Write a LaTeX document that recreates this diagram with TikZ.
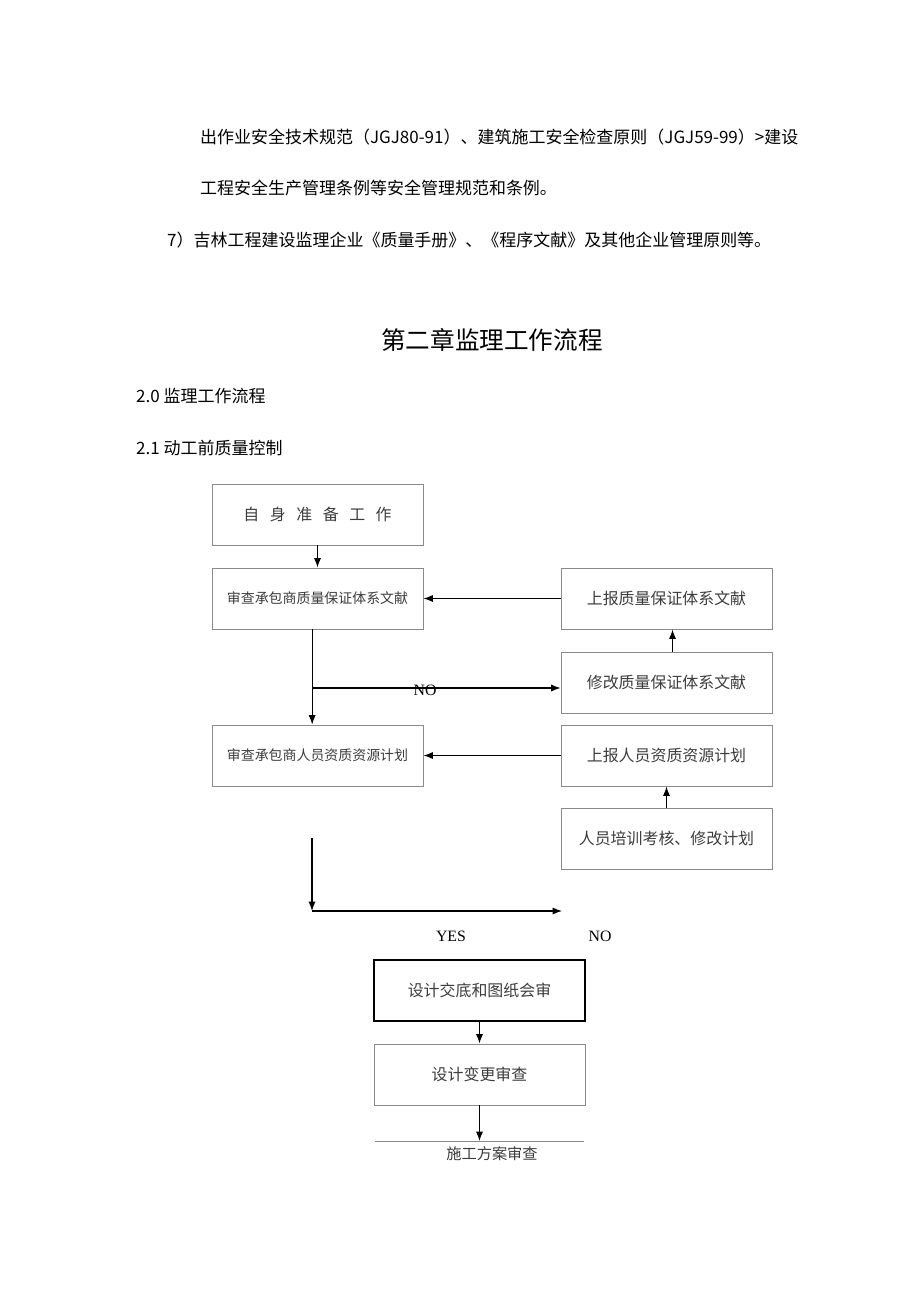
\documentclass[tikz,border=0pt]{standalone}
\usepackage{fontspec}
\usetikzlibrary{arrows.meta}
\setmainfont{Noto Sans CJK SC}
\newfontfamily\latinserif{Liberation Serif}
\definecolor{boxgray}{HTML}{8A8A8A}
\definecolor{boxtext}{HTML}{3C3C3C}
\begin{document}
\begin{tikzpicture}[x=0.3mm,y=-0.3mm,>={Latex[length=8pt,width=6pt]}]
\tikzstyle{box}=[draw=boxgray,line width=0.8pt,minimum width=63.3mm,minimum height=18.3mm,text=boxtext,font=\fontsize{13.6}{15}\selectfont]
\tikzstyle{body}=[anchor=west,inner sep=0pt,font=\fontsize{14.5}{17}\selectfont]
\useasboundingbox (0,0) rectangle (920,1301);
% text above the chart
\node[body](t1) at (200,137) {出作业安全技术规范（JGJ80-91）、建筑施工安全检查原则（JGJ59-99）>建设};
\node[body](t2) at (200,188) {工程安全生产管理条例等安全管理规范和条例。};
\node[body](t3) at (167,240) {7）吉林工程建设监理企业《质量手册》、《程序文献》及其他企业管理原则等。};
\node[inner sep=0pt,font=\fontsize{21}{24}\selectfont](title) at (492,340) {第二章监理工作流程};
\node[body](s20) at (136,396) {2.0 监理工作流程};
\node[body](s21) at (136,448) {2.1 动工前质量控制};
% left column
\node[box](a) at (317.5,514.5) {自\hskip9pt 身\hskip9pt 准\hskip9pt 备\hskip9pt 工\hskip9pt 作};
\node[box,font=\fontsize{11.9}{14}\selectfont](b) at (317.5,598.5) {审查承包商质量保证体系文献};
\node[box,font=\fontsize{11.9}{14}\selectfont](c) at (317.5,755.5) {审查承包商人员资质资源计划};
% right column
\node[box](r1) at (666.5,598.5) {上报质量保证体系文献};
\node[box](r2) at (666.5,682.5) {修改质量保证体系文献};
\node[box](r3) at (666.5,755.5) {上报人员资质资源计划};
\node[box](r4) at (666.5,838.5) {人员培训考核、修改计划};
% lower boxes
\node[box,draw=black,line width=1.1pt](d) at (479.5,990.5) {设计交底和图纸会审};
\node[box](e) at (479.5,1074.5) {设计变更审查};
\coordinate (nob) at (312,688);
\coordinate (y1) at (312,838);
\coordinate (y2) at (312,911);
\coordinate (y3) at (562,911);
\coordinate (hl) at (375,1141);
\coordinate (hr) at (584,1141);
\draw[->,line width=0.9pt] (a) -- (b);
\draw[->,line width=0.9pt] (r1.west) -- (b.east);
\draw[->,line width=0.9pt] ([xshift=1.8mm]r2.north) -- ([xshift=1.8mm]r1.south);
\draw[->,line width=0.9pt] ([xshift=-1.6mm]b.south) -- ([xshift=-1.6mm]c.north);
\draw[->,line width=0.9pt] (nob) -- (nob -| r2.west);
\node[inner sep=0pt,font=\latinserif\fontsize{13.5}{15}\selectfont](no1) at (425,690) {NO};
\draw[->,line width=0.9pt] (r3.west) -- (c.east);
\draw[->,line width=0.9pt] (r4) -- (r3);
\draw[->,line width=0.9pt] (y1) -- (y2);
\draw[->,line width=0.9pt] (y2) -- (y3);
\node[inner sep=0pt,font=\latinserif\fontsize{13.5}{15}\selectfont](yes) at (451,936) {YES};
\node[inner sep=0pt,font=\latinserif\fontsize{13.5}{15}\selectfont](no2) at (600,936) {NO};
\draw[->,line width=0.9pt] (d) -- (e);
\draw[boxgray,line width=0.8pt] (hl) -- (hr);
\draw[->,line width=0.9pt] (e.south) -- (e.south |- hl);
\node[inner sep=0pt,text=boxtext,font=\fontsize{13}{15}\selectfont](f) at (492,1154) {施工方案审查};
\end{tikzpicture}
\end{document}
